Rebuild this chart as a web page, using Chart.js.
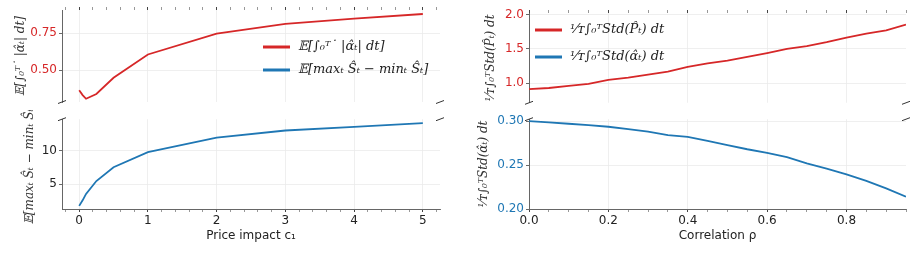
<!DOCTYPE html>
<html>
<head>
<meta charset="utf-8">
<script src="https://cdn.jsdelivr.net/npm/chart.js@4.4.1/dist/chart.umd.min.js"></script>
<style>
  html, body { margin: 0; padding: 0; background: #fff; }
  #wrap { position: relative; width: 917px; height: 277px; overflow: hidden; }
  canvas { position: absolute; }
</style>
</head>
<body>
<div id="wrap">
  <canvas id="leftTop" width="460" height="112" style="left:0;top:0"></canvas>
  <canvas id="leftBottom" width="460" height="140" style="left:0;top:110px"></canvas>
  <canvas id="rightTop" width="457" height="112" style="left:460px;top:0"></canvas>
  <canvas id="rightBottom" width="457" height="140" style="left:460px;top:110px"></canvas>
</div>
<script>
// left panel: price impact c1
const priceImpact = [0, 0.05, 0.1, 0.25, 0.5, 1, 2, 3, 4, 5];
const meanAbsAlpha = [0.363, 0.331, 0.306, 0.338, 0.448, 0.606, 0.747, 0.813, 0.849, 0.880];
const meanRange = [1.77, 2.6, 3.56, 5.48, 7.54, 9.81, 11.98, 13.03, 13.56, 14.14];

// right panel: correlation rho
const correlation = [0, 0.05, 0.1, 0.15, 0.2, 0.25, 0.3, 0.35, 0.4, 0.45, 0.5, 0.55, 0.6, 0.65, 0.7, 0.75, 0.8, 0.85, 0.9, 0.95];
const stdPrice = [0.913, 0.93, 0.96, 0.99, 1.05, 1.08, 1.125, 1.17, 1.24, 1.29, 1.33, 1.385, 1.44, 1.5, 1.54, 1.60, 1.667, 1.725, 1.77, 1.855];
const stdAlpha = [0.300, 0.2985, 0.297, 0.2955, 0.2936, 0.291, 0.288, 0.284, 0.282, 0.2775, 0.2728, 0.268, 0.2638, 0.259, 0.252, 0.246, 0.2395, 0.232, 0.2235, 0.214];

// tick labels
const leftXTicks = [0, 1, 2, 3, 4, 5];
const leftTopYTicks = [0.5, 0.75];
const leftBottomYTicks = [5, 10];
const rightXTicks = [0, 0.2, 0.4, 0.6, 0.8];
const rightTopYTicks = [1.0, 1.5, 2.0];
const rightBottomYTicks = [0.20, 0.25, 0.30];

const RED = '#d62728';
const BLUE = '#1f77b4';
const GRID = '#ebebeb';
const SPINE = '#666';

function minorList(from, to, step) {
  const out = [];
  for (let i = Math.round(from / step); i * step <= to + 1e-9; i++) {
    out.push(Math.round(i * step * 1000) / 1000);
  }
  return out;
}
const leftXAll = minorList(-0.2, 5.2, 0.2);
const rightXAll = minorList(0, 0.95, 0.05);

function isMajor(list, v) {
  return list.some(m => Math.abs(m - v) < 1e-6);
}

// small legend drawn inside the plot
const mathLegend = {
  id: 'mathLegend',
  afterDraw(chart, args, opts) {
    if (!opts.items) return;
    const ctx = chart.ctx;
    ctx.save();
    opts.items.forEach((it, i) => {
      const y = opts.y + i * opts.gap;
      ctx.strokeStyle = it.color;
      ctx.lineWidth = 3;
      ctx.beginPath();
      ctx.moveTo(opts.x, y);
      ctx.lineTo(opts.x + 27, y);
      ctx.stroke();
      ctx.fillStyle = '#222';
      ctx.font = 'italic 13px "DejaVu Serif"';
      ctx.textBaseline = 'middle';
      ctx.fillText(it.text, opts.x + 35, y);
    });
    ctx.restore();
  }
};

// diagonal marks for the broken axis
const axisBreak = {
  id: 'axisBreak',
  afterDraw(chart, args, opts) {
    if (!opts.edge) return;
    const a = chart.chartArea;
    const y = opts.edge === 'top' ? a.top : a.bottom;
    const ctx = chart.ctx;
    ctx.save();
    ctx.strokeStyle = '#333';
    ctx.lineWidth = 1;
    [a.left, a.right].forEach(x => {
      ctx.beginPath();
      ctx.moveTo(x - 4, y + 1.5);
      ctx.lineTo(x + 4, y - 1.5);
      ctx.stroke();
    });
    ctx.restore();
  }
};

function xScale(cfg) {
  const s = {
    type: 'linear',
    min: cfg.xMin,
    max: cfg.xMax,
    position: cfg.isTop ? 'top' : 'bottom',
    afterBuildTicks: (scale) => { scale.ticks = cfg.xAll.map(v => ({value: v})); },
    afterFit: (scale) => { scale.height = cfg.xHeight; },
    border: { display: !cfg.isTop, color: SPINE, width: 1 },
    grid: {
      color: (c) => (c.tick && isMajor(cfg.xTicks, c.tick.value)) ? GRID : 'rgba(0,0,0,0)',
      tickColor: (c) => (c.tick && isMajor(cfg.xTicks, c.tick.value)) ? '#444' : '#999',
      tickLength: 3,
      lineWidth: 0.8,
      tickWidth: 1
    },
    ticks: {
      display: !cfg.isTop,
      autoSkip: false,
      maxRotation: 0,
      padding: 2,
      color: '#222',
      font: { family: 'DejaVu Sans', size: 12 },
      callback: (v) => isMajor(cfg.xTicks, v) ? Number(v).toFixed(cfg.xDigits) : ''
    }
  };
  if (!cfg.isTop) {
    s.title = {
      display: true,
      text: cfg.xTitle,
      color: '#222',
      font: { family: 'DejaVu Sans', size: 12 },
      padding: { top: 0, bottom: 7 }
    };
  }
  return s;
}

function makeChart(id, cfg) {
  const ctx = document.getElementById(id);
  return new Chart(ctx, {
    type: 'line',
    data: {
      datasets: [{
        data: cfg.xs.map((x, i) => ({x: x, y: cfg.ys[i]})),
        borderColor: cfg.color,
        borderWidth: 1.8,
        pointRadius: 0,
        tension: 0,
        fill: false
      }]
    },
    plugins: [mathLegend, axisBreak],
    options: {
      responsive: false,
      animation: false,
      layout: { padding: cfg.padding },
      scales: {
        x: xScale(cfg),
        y: {
          type: 'linear',
          min: cfg.yMin,
          max: cfg.yMax,
          afterBuildTicks: (scale) => { scale.ticks = cfg.yTicks.map(v => ({value: v})); },
          afterFit: (scale) => { scale.width = cfg.yWidth; },
          border: { display: true, color: SPINE, width: 1 },
          grid: { color: GRID, lineWidth: 0.8, tickColor: '#444', tickLength: 3 },
          ticks: {
            color: cfg.yTickColor,
            padding: 2,
            font: { family: 'DejaVu Sans', size: 12 },
            callback: (v) => Number(v).toFixed(cfg.yDigits)
          },
          title: {
            display: true,
            text: cfg.yTitle,
            color: '#333',
            font: { family: 'DejaVu Serif', size: 12, style: 'italic' },
            padding: { top: cfg.yTitlePad, bottom: 0 }
          }
        }
      },
      plugins: {
        legend: { display: false },
        tooltip: { enabled: false },
        mathLegend: cfg.legend || {},
        axisBreak: { edge: cfg.isTop ? 'bottom' : 'top' }
      }
    }
  });
}

window.addEventListener('DOMContentLoaded', function () {
  makeChart('leftTop', {
    xs: priceImpact, ys: meanAbsAlpha, color: RED,
    isTop: true, xMin: -0.25, xMax: 5.25, xAll: leftXAll, xTicks: leftXTicks, xDigits: 0, xHeight: 10,
    yMin: 0.284, yMax: 0.907, yTicks: leftTopYTicks, yDigits: 2, yTickColor: RED, yWidth: 62,
    yTitle: '𝔼[∫₀ᵀ˙ |α̂ₜ| dt]', yTitlePad: 14,
    padding: { left: 0, right: 20, top: 0, bottom: 10 },
    legend: {
      x: 263, y: 47, gap: 23,
      items: [
        { color: RED, text: '𝔼[∫₀ᵀ˙ |α̂ₜ| dt]' },
        { color: BLUE, text: '𝔼[maxₜ Ŝₜ − minₜ Ŝₜ]' }
      ]
    }
  });
  makeChart('leftBottom', {
    xs: priceImpact, ys: meanRange, color: BLUE,
    isTop: false, xMin: -0.25, xMax: 5.25, xAll: leftXAll, xTicks: leftXTicks, xDigits: 0, xHeight: 41,
    xTitle: 'Price impact c₁',
    yMin: 1.3, yMax: 14.72, yTicks: leftBottomYTicks, yDigits: 0, yTickColor: '#222', yWidth: 62,
    yTitle: '𝔼[maxₜ Ŝₜ − minₜ Ŝₜ]', yTitlePad: 23,
    padding: { left: 0, right: 20, top: 6, bottom: 0 }
  });
  makeChart('rightTop', {
    xs: correlation, ys: stdPrice, color: RED,
    isTop: true, xMin: 0, xMax: 0.95, xAll: rightXAll, xTicks: rightXTicks, xDigits: 1, xHeight: 13,
    yMin: 0.714, yMax: 2.025, yTicks: rightTopYTicks, yDigits: 1, yTickColor: RED, yWidth: 69,
    yTitle: '¹⁄ᴛ∫₀ᵀStd(P̂ₜ) dt', yTitlePad: 24,
    padding: { left: 0, right: 11, top: 0, bottom: 9 },
    legend: {
      x: 75, y: 30, gap: 27,
      items: [
        { color: RED, text: '¹⁄ᴛ∫₀ᵀStd(P̂ₜ) dt' },
        { color: BLUE, text: '¹⁄ᴛ∫₀ᵀStd(α̂ₜ) dt' }
      ]
    }
  });
  makeChart('rightBottom', {
    xs: correlation, ys: stdAlpha, color: BLUE,
    isTop: false, xMin: 0, xMax: 0.95, xAll: rightXAll, xTicks: rightXTicks, xDigits: 1, xHeight: 41,
    xTitle: 'Correlation ρ',
    yMin: 0.2, yMax: 0.3022, yTicks: rightBottomYTicks, yDigits: 2, yTickColor: BLUE, yWidth: 69,
    yTitle: '¹⁄ᴛ∫₀ᵀStd(α̂ₜ) dt', yTitlePad: 17,
    padding: { left: 0, right: 11, top: 8, bottom: 0 }
  });
});
</script>
</body>
</html>
